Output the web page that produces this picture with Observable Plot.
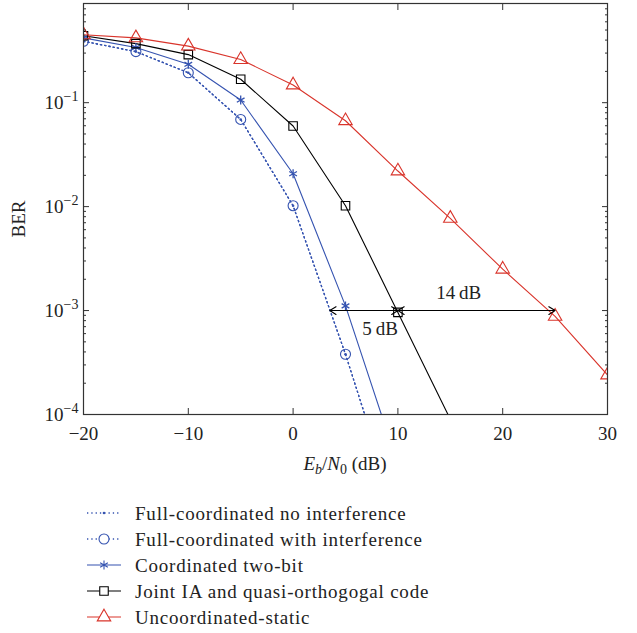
<!DOCTYPE html>
<html><head>
<meta charset="utf-8">
<script src="https://cdn.jsdelivr.net/npm/d3@7"></script>
<script src="https://cdn.jsdelivr.net/npm/@observablehq/plot@0.6"></script>
<style>
body{margin:0;background:#fff;font-family:"Liberation Serif",serif;}
#chart svg{display:block;}
</style>
</head><body><div id="chart"></div><div id="legend"></div>
<script>
// ---- data ----
const snrFullNoInterf = [-20,-15,-10,-5,0,5,10];
const berFullNoInterf = [0.39,0.31,0.194,0.069,0.0102,0.00038,0.00001];
const snrFullInterf = [-20,-15,-10,-5,0,5,10];
const berFullInterf = [0.39,0.31,0.194,0.069,0.0102,0.00038,0.00001];
const snrTwoBit = [-20,-15,-10,-5,0,5,10];
const berTwoBit = [0.42,0.34,0.234,0.106,0.0207,0.00111,0.000033];
const snrJoint = [-20,-15,-10,-5,0,5,10,15];
const berJoint = [0.44,0.37,0.29,0.168,0.0597,0.0102,0.00096,0.00009];
const snrUncoord = [-20,-15,-10,-5,0,5,10,15,20,25,30];
const berUncoord = [0.45,0.42,0.35,0.26,0.148,0.067,0.022,0.0077,0.0025,0.00088,0.00024];
const seriesNames = ["Full-coordinated no interference","Full-coordinated with interference","Coordinated two-bit","Joint IA and quasi-orthogogal code","Uncoordinated-static"];
const xTicks = [-20,-10,0,10,20,30];
const yTicks = [1e-1,1e-2,1e-3,1e-4];
const gapY = 1e-3;
const gap5 = [3.5,10];
const gap14 = [10,25];
const gapLabels = [{x:8.3,y:0.00067,t:"5\u2009dB"},{x:15.8,y:0.00148,t:"14\u2009dB"}];

const BLUE = "#3553b0", RED = "#d9342b", BLACK = "#000";
const FONT = "Liberation Serif";
const DOTS = "1.3,3";

const zip = (xs, ys) => xs.map((x,i)=>({x, y: ys[i]}));
const dNo = zip(snrFullNoInterf, berFullNoInterf);
const dIn = zip(snrFullInterf, berFullInterf);
const dTwo = zip(snrTwoBit, berTwoBit);
const dJoint = zip(snrJoint, berJoint);
const dUn = zip(snrUncoord, berUncoord);

const minor = [];
for (const d of [1e-4,1e-3,1e-2,1e-1]) for (let k=2;k<=9;k++) { const v=k*d; if (v<=0.9) minor.push(v); }

const tickOnly = {fill: "none", label: null, stroke: "#333"};

const plot = Plot.plot({
  width: 637, height: 480,
  marginLeft: 83, marginRight: 30, marginTop: 3, marginBottom: 66,
  x: {domain: [-20, 30]},
  y: {type: "log", domain: [1e-4, 0.9]},
  style: {fontFamily: FONT, fontSize: "19px", color: "#222", background: "#fff"},
  marks: [
    // series lines
    Plot.line(dNo, {x:"x", y:"y", stroke: BLUE, strokeWidth: 1.3, strokeDasharray: DOTS, clip: true}),
    Plot.line(dIn, {x:"x", y:"y", stroke: BLUE, strokeWidth: 1.3, strokeDasharray: DOTS, clip: true}),
    Plot.line(dTwo, {x:"x", y:"y", stroke: BLUE, strokeWidth: 1.1, clip: true}),
    Plot.line(dJoint, {x:"x", y:"y", stroke: BLACK, strokeWidth: 1.1, clip: true}),
    Plot.line(dUn, {x:"x", y:"y", stroke: RED, strokeWidth: 1.1, clip: true}),
    // markers
    Plot.dot(dNo, {x:"x", y:"y", r: 1.3, fill: BLUE, stroke: null, clip: true}),
    Plot.dot(dIn, {x:"x", y:"y", r: 5, stroke: BLUE, strokeWidth: 1.1, clip: true}),
    Plot.dot(dTwo, {x:"x", y:"y", symbol: "asterisk", r: 4.2, stroke: BLUE, strokeWidth: 1.3, clip: true}),
    Plot.dot(dJoint, {x:"x", y:"y", symbol: "square", r: 4.8, stroke: BLACK, strokeWidth: 1.1, clip: true}),
    Plot.dot(dUn, {x:"x", y:"y", symbol: "triangle", r: 5, stroke: RED, strokeWidth: 1.1, clip: true}),
    // gap arrows
    Plot.arrow([gap5, gap14].flatMap(([a,b]) => [{x1:(a+b)/2, x2:a},{x1:(a+b)/2, x2:b}]),
      {x1:"x1", x2:"x2", y1: () => gapY, y2: () => gapY, stroke: BLACK, strokeWidth: 1.1, headLength: 10, headAngle: 64, insetStart: 0, insetEnd: 0}),
    Plot.text(gapLabels, {x:"x", y:"y", text:"t", fontSize: 19, fill: "#222"}),
    // frame and axes
    Plot.frame({stroke: "#333", strokeWidth: 1.2}),
    Plot.axisX(xTicks, {anchor: "bottom", tickSize: -6, ...tickOnly}),
    Plot.axisX(xTicks, {anchor: "top", tickSize: -6, ...tickOnly}),
    Plot.axisY(yTicks, {anchor: "left", tickSize: -6, ...tickOnly}),
    Plot.axisY(minor, {anchor: "left", tickSize: -3, ...tickOnly}),
    Plot.axisY(yTicks, {anchor: "right", tickSize: -6, ...tickOnly}),
    Plot.axisY(minor, {anchor: "right", tickSize: -3, ...tickOnly}),
    Plot.axisX(xTicks, {anchor: "bottom", tickSize: 0, tickPadding: 12, label: null, fontSize: 19}),
    Plot.axisY(yTicks, {anchor: "left", tickSize: 0, tickPadding: 5, label: null, fontSize: 19,
      tickFormat: d => "10^" + Math.round(Math.log10(d))})
  ]
});
document.getElementById("chart").appendChild(plot);

// rich tick labels 10^-n
const svg = d3.select(plot);
svg.selectAll("text").each(function() {
  const t = d3.select(this);
  const s = t.text();
  if (/^10\^-?\d+$/.test(s)) {
    const e = s.split("^")[1].replace("-", "\u2212");
    t.text(null);
    t.append("tspan").text("10");
    t.append("tspan").attr("dy", "-0.55em").attr("font-size", "14px").text(e);
  }
});
// y-axis title
svg.append("text").attr("transform", "translate(25,219) rotate(-90)").attr("text-anchor", "middle")
  .attr("font-family", FONT).attr("font-size", 19).attr("fill", "#222").text("BER");
// x-axis title with italics and subscripts
const xt = svg.append("text").attr("x", (83+607)/2).attr("y", 470).attr("text-anchor", "middle")
  .attr("font-family", FONT).attr("font-size", 19).attr("fill", "#222");
xt.append("tspan").attr("font-style", "italic").text("E");
xt.append("tspan").attr("font-size", 14).attr("dy", 4).attr("font-style", "italic").text("b");
xt.append("tspan").attr("dy", -4).text("/");
xt.append("tspan").attr("font-style", "italic").text("N");
xt.append("tspan").attr("font-size", 14).attr("dy", 4).text("0");
xt.append("tspan").attr("dy", -4).text(" (dB)");

// legend
const leg = d3.select("#legend").append("svg").attr("width", 637).attr("height", 153);
const rows = [
  {name: seriesNames[0], color: BLUE, dash: DOTS, sym: "dot"},
  {name: seriesNames[1], color: BLUE, dash: DOTS, sym: d3.symbolCircle},
  {name: seriesNames[2], color: BLUE, dash: null, sym: d3.symbolAsterisk},
  {name: seriesNames[3], color: BLACK, dash: null, sym: d3.symbolSquare},
  {name: seriesNames[4], color: RED, dash: null, sym: d3.symbolTriangle}
];
const sizes = [0, Math.PI*25, Math.PI*4.2*4.2, Math.PI*4.8*4.8, Math.PI*25];
rows.forEach((r, i) => {
  const cy = 33 + i*26;
  const g = leg.append("g");
  g.append("line").attr("x1", 87).attr("x2", 121).attr("y1", cy).attr("y2", cy)
    .attr("stroke", r.color).attr("stroke-width", r.dash ? 1.3 : 1.1).attr("stroke-dasharray", r.dash);
  if (r.sym === "dot") {
    g.append("circle").attr("cx", 104).attr("cy", cy).attr("r", 1.3).attr("fill", r.color);
  } else {
    g.append("path").attr("transform", `translate(104,${cy})`).attr("d", d3.symbol(r.sym, sizes[i])())
      .attr("fill", "#fff").attr("stroke", r.color).attr("stroke-width", 1.1);
  }
  g.append("text").attr("x", 135).attr("y", cy).attr("dy", "0.35em").attr("font-family", FONT)
    .attr("font-size", 19).attr("letter-spacing", "0.8px").attr("fill", "#222").text(r.name);
});
</script>
</body></html>
